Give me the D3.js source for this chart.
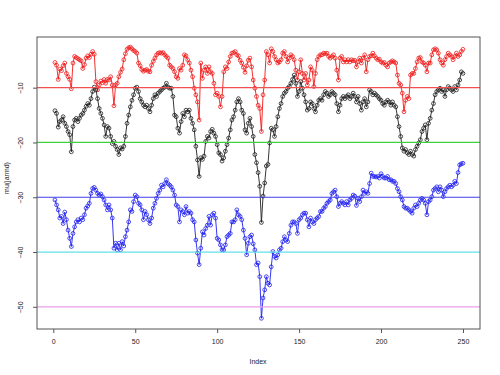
<!DOCTYPE html>
<html><head><meta charset="utf-8">
<script src="https://cdn.jsdelivr.net/npm/d3@7"></script>
<style>html,body{margin:0;padding:0;background:#fff;}svg{display:block;font-family:"Liberation Sans",Arial,sans-serif;}</style>
</head><body><svg id="c" width="500" height="375"></svg>
<script>
const redSeries = [
-5.4,-5.9,-8.5,-6.6,-6.9,-6.0,-5.5,-7.4,-8.0,-8.5,
-10.2,-5.5,-4.3,-4.5,-4.7,-4.9,-5.1,-6.5,-5.8,-4.6,
-4.2,-4.5,-3.9,-3.4,-3.9,-8.9,-10.4,-9.5,-8.8,-9.1,
-8.5,-9.2,-8.5,-8.6,-8.0,-9.5,-13.3,-9.5,-9.2,-8.0,
-7.2,-6.6,-4.9,-3.8,-3.0,-2.7,-2.6,-2.9,-3.2,-3.4,
-3.7,-5.5,-6.0,-6.7,-7.0,-6.8,-6.7,-7.0,-7.1,-5.9,
-5.2,-4.6,-4.0,-3.7,-3.6,-3.7,-3.6,-4.0,-4.3,-4.6,
-5.9,-6.2,-6.5,-7.1,-8.0,-8.3,-6.5,-6.8,-5.9,-4.0,
-4.2,-4.9,-5.5,-6.8,-8.0,-10.1,-11.3,-12.6,-15.9,-5.5,
-8.3,-6.8,-6.2,-7.4,-6.2,-7.1,-7.4,-9.2,-11.3,-11.0,
-11.6,-13.5,-11.6,-7.1,-6.2,-6.5,-5.3,-4.3,-3.7,-3.6,
-3.4,-4.0,-4.2,-5.0,-5.5,-6.3,-7.2,-6.0,-5.0,-4.6,
-6.2,-8.6,-10.1,-11.6,-13.2,-13.8,-18.0,-11.3,-8.6,-3.4,
-4.0,-5.5,-2.9,-3.4,-4.3,-4.9,-5.5,-5.3,-4.9,-3.7,
-3.4,-4.3,-5.3,-4.6,-4.0,-4.3,-4.9,-6.8,-8.6,-7.1,
-4.9,-7.4,-8.6,-7.4,-9.5,-8.6,-6.2,-6.8,-9.8,-7.4,
-4.9,-4.3,-4.0,-4.0,-3.7,-3.8,-3.7,-4.3,-4.6,-4.3,
-4.0,-4.6,-6.8,-8.6,-4.6,-4.3,-5.3,-4.9,-5.3,-4.9,
-5.3,-4.9,-5.1,-5.0,-6.2,-5.3,-4.6,-5.5,-4.6,-4.0,
-7.1,-4.9,-4.3,-4.2,-3.7,-4.2,-4.6,-4.9,-4.8,-5.3,
-5.5,-5.4,-5.9,-6.2,-5.5,-5.3,-5.1,-5.3,-5.5,-7.7,
-9.2,-9.5,-11.0,-14.4,-12.3,-11.6,-12.0,-7.7,-7.4,-7.4,
-6.5,-5.3,-4.6,-4.5,-5.3,-5.5,-5.9,-7.1,-5.5,-5.5,
-4.0,-3.1,-2.9,-3.1,-3.7,-4.9,-5.5,-5.9,-4.9,-4.3,
-3.7,-4.0,-4.3,-4.9,-4.3,-3.7,-4.3,-4.0,-3.4,-3.0
];
const blackSeries = [
-14.2,-14.7,-17.2,-16.2,-15.9,-15.3,-16.5,-17.1,-18.0,-18.6,
-21.7,-17.1,-15.9,-15.6,-16.2,-15.6,-15.0,-14.7,-14.1,-13.4,
-12.9,-13.2,-12.0,-10.7,-9.9,-10.4,-12.0,-13.8,-14.7,-15.6,
-16.8,-18.9,-17.1,-17.4,-18.9,-20.2,-19.8,-20.7,-21.3,-22.2,
-21.0,-21.2,-20.7,-18.9,-16.5,-15.0,-13.5,-12.3,-11.3,-10.1,
-9.9,-10.7,-12.0,-12.6,-13.2,-13.5,-13.2,-13.8,-14.4,-13.2,
-12.0,-11.3,-11.6,-11.0,-10.7,-10.4,-10.1,-9.9,-9.2,-9.9,
-10.1,-10.1,-11.6,-15.0,-15.3,-17.4,-18.3,-16.2,-14.7,-15.3,
-14.1,-14.4,-14.1,-15.6,-16.5,-17.7,-20.7,-23.2,-26.2,-22.8,
-23.1,-22.5,-19.8,-18.9,-19.2,-18.0,-17.6,-18.3,-18.9,-20.4,
-21.9,-22.2,-23.4,-22.8,-21.6,-20.4,-19.2,-17.7,-15.9,-15.3,
-14.1,-12.6,-12.0,-12.6,-14.1,-14.7,-17.7,-18.3,-16.5,-15.6,
-17.1,-18.9,-22.2,-23.7,-25.5,-28.0,-34.6,-29.8,-27.4,-24.3,
-24.0,-20.1,-17.4,-17.7,-18.9,-17.1,-15.3,-13.8,-12.9,-11.6,
-11.0,-10.7,-10.1,-9.8,-9.2,-8.5,-7.7,-9.2,-11.6,-10.7,
-8.9,-10.1,-11.3,-12.6,-14.1,-13.8,-12.6,-12.9,-13.8,-14.4,
-13.2,-12.3,-12.0,-12.3,-11.3,-10.7,-11.0,-11.6,-11.3,-10.7,
-11.0,-11.3,-12.9,-14.4,-13.2,-12.0,-11.6,-12.0,-11.6,-11.3,
-12.0,-11.6,-11.0,-11.6,-12.6,-11.6,-12.9,-14.1,-12.6,-12.0,
-13.5,-12.6,-10.4,-10.7,-11.3,-11.0,-11.3,-11.6,-12.0,-12.3,
-12.9,-13.2,-12.6,-12.3,-12.6,-13.2,-12.6,-13.2,-13.5,-15.3,
-17.1,-18.9,-21.0,-21.6,-21.3,-21.9,-22.2,-21.6,-22.2,-22.5,
-21.3,-20.7,-20.1,-19.5,-18.0,-17.4,-16.8,-19.5,-16.5,-15.6,
-14.1,-12.9,-11.3,-10.7,-10.4,-10.1,-10.7,-10.4,-11.6,-10.4,
-9.8,-10.1,-10.4,-10.7,-9.8,-10.4,-9.5,-8.6,-7.1,-7.4
];
const blueSeries = [
-30.5,-31.4,-32.3,-33.8,-33.5,-34.8,-32.7,-34.1,-36.0,-37.5,
-39.0,-36.6,-35.4,-34.5,-34.1,-34.5,-33.8,-34.1,-33.2,-32.0,
-31.6,-31.1,-29.3,-28.4,-28.2,-28.7,-29.3,-29.6,-29.4,-29.9,
-30.5,-31.4,-32.3,-31.4,-32.3,-33.8,-39.3,-38.4,-39.6,-38.4,
-39.6,-38.1,-38.9,-37.2,-36.0,-34.5,-32.3,-32.6,-30.8,-29.6,
-29.9,-31.1,-31.4,-32.3,-34.1,-32.6,-33.2,-34.1,-34.8,-33.8,
-32.0,-31.1,-30.2,-29.3,-28.7,-27.8,-28.1,-27.5,-26.8,-27.5,
-27.8,-28.1,-28.7,-29.6,-31.4,-31.7,-34.5,-32.3,-32.6,-33.2,
-31.7,-32.9,-32.6,-32.9,-34.1,-34.5,-37.8,-40.2,-42.3,-39.3,
-36.3,-36.9,-35.7,-35.1,-33.5,-35.1,-33.2,-32.9,-33.8,-37.5,
-37.8,-38.7,-39.6,-39.6,-38.7,-37.2,-36.9,-36.6,-34.5,-34.5,
-34.1,-32.3,-33.2,-33.5,-34.1,-36.0,-37.5,-40.5,-38.4,-37.2,
-36.9,-38.5,-39.6,-42.3,-42.0,-44.5,-52.1,-48.4,-46.9,-44.5,
-45.7,-46.0,-42.7,-39.9,-40.8,-41.1,-40.5,-39.6,-39.3,-38.1,
-37.2,-37.8,-38.1,-36.6,-35.1,-34.5,-34.5,-34.8,-36.6,-34.1,
-33.8,-33.2,-32.9,-32.9,-34.1,-35.4,-33.8,-34.5,-34.8,-34.1,
-33.8,-33.5,-32.6,-32.6,-32.0,-31.7,-31.1,-30.8,-30.5,-29.3,
-29.0,-28.7,-29.9,-31.7,-31.1,-30.8,-31.1,-31.4,-30.8,-31.4,
-30.5,-30.2,-29.6,-29.8,-31.5,-30.2,-30.8,-29.9,-28.7,-29.3,
-29.0,-29.3,-27.5,-25.6,-26.2,-26.2,-26.3,-26.2,-26.5,-25.7,
-26.2,-26.5,-26.5,-26.2,-26.8,-26.8,-27.1,-27.1,-27.5,-28.4,
-29.0,-29.9,-30.5,-31.7,-32.0,-32.0,-32.3,-32.6,-32.9,-32.0,
-31.4,-31.7,-31.1,-30.5,-30.2,-30.5,-31.1,-33.2,-30.8,-30.5,
-29.9,-28.7,-28.4,-28.1,-29.0,-28.1,-28.7,-29.9,-29.0,-28.4,
-28.1,-27.8,-28.1,-27.8,-27.1,-27.5,-25.5,-24.1,-23.9,-23.8
];
const xTicks = [0, 50, 100, 150, 200, 250];
const yTicks = [-10, -20, -30, -40, -50];
const refLevels = [-10, -20, -30, -40, -50];
const refColors = ["#f05050", "#40d040", "#4040e8", "#60e0e8", "#e8a0e8"];
const seriesList = [
  {values: redSeries, color: "#f01818"},
  {values: blackSeries, color: "#202020"},
  {values: blueSeries, color: "#2020f0"}
];
const xLabel = "Index";
const yLabel = "mu(jarmd)";

const L = 37, R = 480, T = 37, B = 329;
const svg = d3.select("#c");
const x = d3.scaleLinear().domain([-9.95, 260.4]).range([L, R]);
const y = d3.scaleLinear().domain([-54.05, -0.75]).range([B, T]);

// series
const line = d3.line().x((d, i) => x(i + 1)).y(d => y(d));
seriesList.forEach(s => {
  const g = svg.append("g");
  g.append("path").datum(s.values).attr("d", line)
    .attr("fill", "none").attr("stroke", s.color).attr("stroke-width", 0.9);
  g.selectAll("circle").data(s.values).join("circle")
    .attr("cx", (d, i) => x(i + 1)).attr("cy", d => y(d)).attr("r", 1.9)
    .attr("fill", "none").attr("stroke", s.color).attr("stroke-width", 0.8);
});

// reference lines
svg.selectAll("line.ref").data(refLevels).join("line").attr("class", "ref")
  .attr("x1", L).attr("x2", R).attr("y1", d => y(d)).attr("y2", d => y(d))
  .attr("stroke", (d, i) => refColors[i]).attr("stroke-width", 1.2);

// box
svg.append("rect").attr("x", L).attr("y", T).attr("width", R - L).attr("height", B - T)
  .attr("fill", "none").attr("stroke", "#555").attr("stroke-width", 1);

// x axis
const xa = svg.append("g").attr("transform", `translate(0,${B})`)
  .call(d3.axisBottom(x).tickValues(xTicks).tickSize(4).tickPadding(6).tickFormat(d3.format("d")));
xa.select(".domain").remove();
xa.selectAll("line").attr("stroke", "#555");
xa.selectAll("text").attr("font-size", 7).attr("fill", "#222").attr("font-family", "Liberation Sans, Arial, sans-serif");

// y axis
const ya = svg.append("g").attr("transform", `translate(${L},0)`)
  .call(d3.axisLeft(y).tickValues(yTicks).tickSize(4).tickFormat(d3.format("d")));
ya.select(".domain").remove();
ya.selectAll("line").attr("stroke", "#555");
ya.selectAll("text").attr("font-size", 7).attr("fill", "#222")
  .attr("font-family", "Liberation Sans, Arial, sans-serif")
  .attr("x", null).attr("dy", null)
  .attr("text-anchor", "middle")
  .attr("transform", d => `translate(${-13},0) rotate(-90) translate(0,-1)`);

svg.append("text").attr("x", 258).attr("y", 364).attr("text-anchor", "middle")
  .attr("font-size", 7).attr("fill", "#222").text(xLabel);
svg.append("text").attr("transform", "translate(9,178) rotate(-90)").attr("text-anchor", "middle")
  .attr("font-size", 7).attr("fill", "#222").text(yLabel);
</script></body></html>
